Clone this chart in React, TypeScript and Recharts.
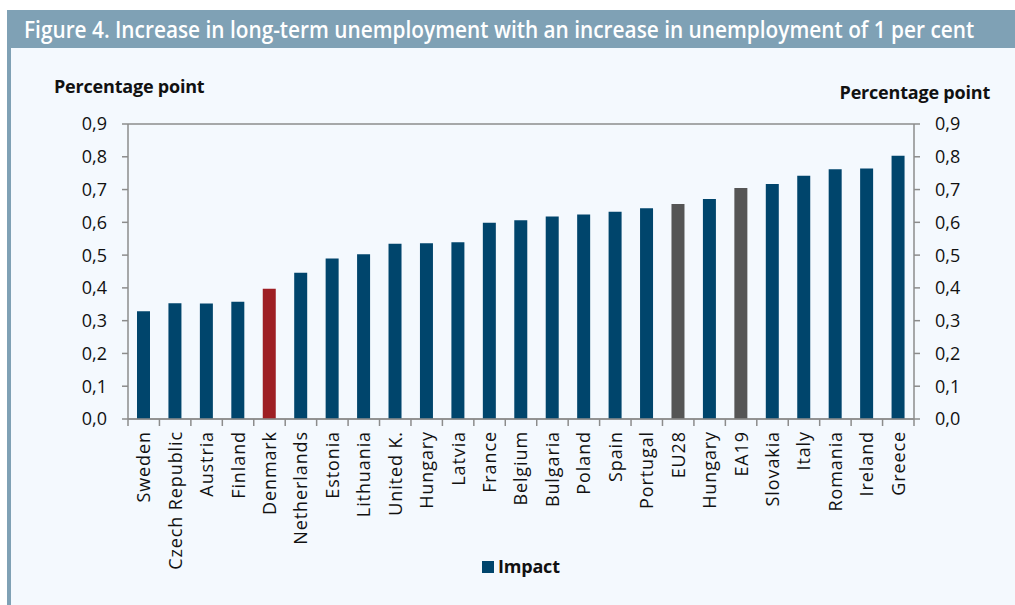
import React, { useLayoutEffect, useRef, useState } from 'react';
import { ComposedChart, Bar, Line, XAxis, YAxis, CartesianGrid, Cell } from 'recharts';

const countries = [
  'Sweden', 'Czech Republic', 'Austria', 'Finland', 'Denmark', 'Netherlands', 'Estonia',
  'Lithuania', 'United K.', 'Hungary', 'Latvia', 'France', 'Belgium', 'Bulgaria', 'Poland',
  'Spain', 'Portugal', 'EU28', 'Hungary', 'EA19', 'Slovakia', 'Italy', 'Romania', 'Ireland', 'Greece'
];
const impact = [
  0.329, 0.353, 0.352, 0.358, 0.397, 0.446, 0.49, 0.503, 0.535, 0.536, 0.539, 0.599, 0.606,
  0.618, 0.624, 0.632, 0.643, 0.656, 0.671, 0.705, 0.717, 0.742, 0.762, 0.764, 0.803
];
const yTicks = [0, 0.1, 0.2, 0.3, 0.4, 0.5, 0.6, 0.7, 0.8, 0.9];
const highlighted = ['Denmark'];
const aggregates = ['EU28', 'EA19'];

const data = countries.map((name, i) => ({ name, impact: impact[i] }));

const W = 1015;
const H = 605;
const PLOT_LEFT = 128;
const PLOT_RIGHT = 914;
const PLOT_TOP = 124;
const PLOT_BOTTOM = 419;
const BAND = (PLOT_RIGHT - PLOT_LEFT) / countries.length;
const TITLE_WIDTH = 950;

const BLUE = '#00456c';
const RED = '#9e1f24';
const GREY = '#555555';
const LINE = '#8c8c8c';
const FONT = '"Open Sans", sans-serif';

const fmt = (v: number) => v.toFixed(1).replace('.', ',');

const XTick = (props: any) => {
  const { x, y, payload, index } = props;
  const top = y - 12;
  return (
    <g>
      <line x1={x - BAND / 2} x2={x - BAND / 2} y1={top} y2={top + 7} stroke={LINE} strokeWidth={1.5} />
      {index === countries.length - 1 && (
        <line x1={x + BAND / 2} x2={x + BAND / 2} y1={top} y2={top + 7} stroke={LINE} strokeWidth={1.5} />
      )}
      <text
        x={x}
        y={y}
        transform={`rotate(-90, ${x}, ${y})`}
        textAnchor="end"
        dy="0.36em"
        fontSize={18}
        letterSpacing={0.9}
        fontFamily={FONT}
        fill="#111"
      >
        {payload.value}
      </text>
    </g>
  );
};

const barColor = (name: string) => {
  if (highlighted.includes(name)) return RED;
  if (aggregates.includes(name)) return GREY;
  return BLUE;
};

const yAxisProps = {
  domain: [0, 0.9] as [number, number],
  ticks: yTicks,
  tickFormatter: fmt,
  tickSize: 6,
  tickMargin: 15,
  axisLine: { stroke: LINE, strokeWidth: 1.5 },
  tickLine: { stroke: LINE, strokeWidth: 1.5 },
  tick: { fill: '#111', fontSize: 18, fontFamily: FONT },
};

// condensed title: squeeze the text to the width it has in the figure
const Title = () => {
  const ref = useRef<HTMLSpanElement>(null);
  const [scale, setScale] = useState(0.8);
  useLayoutEffect(() => {
    if (ref.current) setScale(TITLE_WIDTH / ref.current.offsetWidth);
  }, []);
  return (
    <span
      ref={ref}
      style={{
        position: 'absolute',
        left: 24,
        top: 13,
        fontSize: 23,
        fontWeight: 600,
        color: '#fff',
        whiteSpace: 'nowrap',
        lineHeight: '32px',
        transform: `scaleX(${scale})`,
        transformOrigin: 'left center',
      }}
    >
      Figure 4. Increase in long-term unemployment with an increase in unemployment of 1 per cent
    </span>
  );
};

export default function App() {
  return (
    <div style={{ position: 'absolute', left: 0, top: 0, width: W, height: H, background: '#fff', fontFamily: FONT, overflow: 'hidden' }}>
      <div style={{ position: 'absolute', left: 7, top: 10, width: W - 7, height: H - 10, background: '#f4f9fe' }} />
      <div style={{ position: 'absolute', left: 7, top: 10, width: 4, height: H - 10, background: '#7fa1b5' }} />
      <div style={{ position: 'absolute', left: 7, top: 10, width: W - 7, height: 38, background: '#7fa1b5' }} />
      <Title />
      <div style={{ position: 'absolute', left: 54, top: 74, fontSize: 18, fontWeight: 700, color: '#111', whiteSpace: 'nowrap', letterSpacing: -0.2 }}>
        Percentage point
      </div>
      <div style={{ position: 'absolute', right: W - 990, top: 80, fontSize: 18, fontWeight: 700, color: '#111', whiteSpace: 'nowrap', letterSpacing: -0.2 }}>
        Percentage point
      </div>
      <div style={{ position: 'absolute', left: 0, top: 0 }}>
        <ComposedChart
          width={W}
          height={H}
          data={data}
          margin={{ top: PLOT_TOP, right: 0, bottom: 0, left: 0 }}
        >
          <CartesianGrid horizontal vertical={false} stroke={LINE} strokeWidth={1.5} />
          <XAxis
            dataKey="name"
            interval={0}
            height={H - PLOT_BOTTOM}
            tickLine={false}
            tickSize={0}
            tickMargin={12}
            axisLine={{ stroke: LINE, strokeWidth: 1.5 }}
            tick={<XTick />}
          />
          <YAxis yAxisId="left" orientation="left" width={PLOT_LEFT} {...yAxisProps} />
          <YAxis yAxisId="right" orientation="right" width={W - PLOT_RIGHT} {...yAxisProps} />
          <Bar yAxisId="left" dataKey="impact" barSize={13} isAnimationActive={false}>
            {data.map((d, i) => (
              <Cell key={i} fill={barColor(d.name)} />
            ))}
          </Bar>
          <Line
            yAxisId="right"
            dataKey="impact"
            stroke="none"
            dot={false}
            activeDot={false}
            legendType="none"
            isAnimationActive={false}
          />
        </ComposedChart>
      </div>
      <div style={{ position: 'absolute', left: 482, top: 561, width: 12, height: 12, background: BLUE }} />
      <div style={{ position: 'absolute', left: 498, top: 554, fontSize: 18, fontWeight: 700, color: '#111', letterSpacing: -0.2 }}>
        Impact
      </div>
    </div>
  );
}
